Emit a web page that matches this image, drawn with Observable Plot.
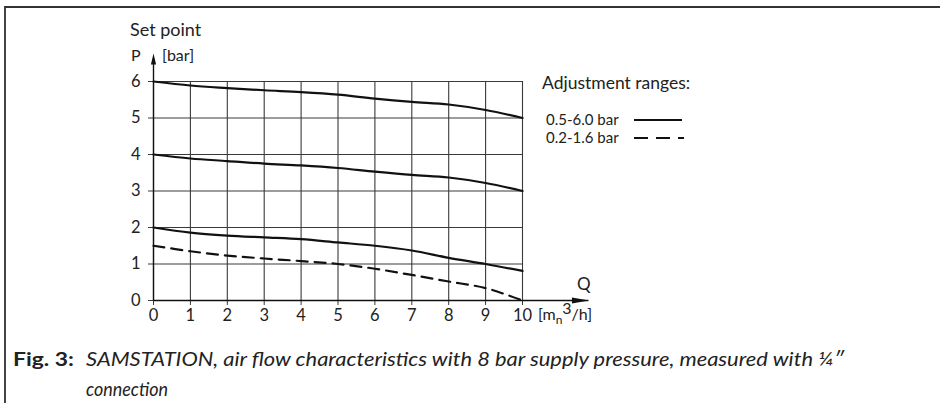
<!DOCTYPE html>
<html>
<head>
<meta charset="utf-8">
<script src="https://cdn.jsdelivr.net/npm/d3@7"></script>
<script src="https://cdn.jsdelivr.net/npm/@observablehq/plot@0.6"></script>
<style>
  html, body { margin: 0; padding: 0; background: #fff; }
  #wrap { position: relative; width: 940px; height: 403px; overflow: hidden; background: #fff; }
  #frame { position: absolute; left: 4px; top: 6px; width: 940px; height: 400px;
           border-top: 2px solid #333; border-left: 2px solid #444; box-sizing: border-box; }
  #chart { position: absolute; left: 0; top: 0; }
</style>
</head>
<body>
<div id="wrap"><div id="frame"></div><div id="chart"></div></div>
<script>
// ---- data ----
const flow = [0, 1, 2, 3, 4, 5, 6, 7, 8, 9, 10];               // Q [m_n^3/h]
const range60 = [6.0, 5.89, 5.82, 5.76, 5.71, 5.64, 5.53, 5.44, 5.37, 5.22, 5.0];  // 0.5-6.0 bar, set point 6
const range40 = [4.0, 3.89, 3.82, 3.75, 3.70, 3.63, 3.53, 3.44, 3.37, 3.22, 3.0];  // 0.5-6.0 bar, set point 4
const range20 = [2.0, 1.86, 1.78, 1.73, 1.68, 1.59, 1.50, 1.37, 1.17, 1.00, 0.81]; // 0.5-6.0 bar, set point 2
const range15 = [1.5, 1.35, 1.23, 1.15, 1.08, 1.00, 0.87, 0.70, 0.52, 0.34, 0.0];  // 0.2-1.6 bar, set point 1.5
const xTicks = [0, 1, 2, 3, 4, 5, 6, 7, 8, 9, 10];
const yTicks = [0, 1, 2, 3, 4, 5, 6];
const legendLabels = ["0.5-6.0 bar", "0.2-1.6 bar"];

const series = [
  {name: "s60", vals: range60, dashed: false},
  {name: "s40", vals: range40, dashed: false},
  {name: "s20", vals: range20, dashed: false},
  {name: "s15", vals: range15, dashed: true}
];
const rows = s => flow.map((x, i) => ({x, y: s.vals[i]}));

const arrowRight = {draw(ctx) { ctx.moveTo(0, 0); ctx.lineTo(-17, -3); ctx.lineTo(-17, 3); ctx.closePath(); }};
const arrowUp = {draw(ctx) { ctx.moveTo(0, 0); ctx.lineTo(-2.6, 11); ctx.lineTo(2.6, 11); ctx.closePath(); }};

const FONT = "Lato, 'Noto Sans', sans-serif";

const chart = Plot.plot({
  width: 940, height: 403,
  marginLeft: 153, marginRight: 418, marginTop: 81, marginBottom: 103,
  x: {domain: [0, 10]},
  y: {domain: [0, 6]},
  style: {fontFamily: FONT, fontSize: "16px", color: "#222", background: "transparent", overflow: "visible"},
  marks: [
    Plot.gridX(xTicks, {stroke: "#3a3a3a", strokeOpacity: 1, strokeWidth: 1.1}),
    Plot.gridY(yTicks, {stroke: "#3a3a3a", strokeOpacity: 1, strokeWidth: 1.1}),
    Plot.axisX(xTicks, {tickSize: 5, tickPadding: 4, stroke: "#3a3a3a", strokeOpacity: 1, fontSize: 16.5, tickFormat: d => String(d), label: null}),
    Plot.axisY(yTicks, {tickSize: 5, tickPadding: 8, stroke: "#3a3a3a", strokeOpacity: 1, fontSize: 16.5, tickFormat: d => String(d), label: null}),
    Plot.ruleY([0], {x1: 0, x2: 11.8, stroke: "#111", strokeWidth: 1.4}),
    Plot.ruleX([0], {y1: 0, y2: 6.6, stroke: "#111", strokeWidth: 1.4}),
    Plot.dot([{x: 11.8, y: 0}], {x: "x", y: "y", symbol: arrowRight, fill: "#111", r: 5}),
    Plot.dot([{x: 0, y: 6.77}], {x: "x", y: "y", symbol: arrowUp, fill: "#111", r: 5}),
    ...series.map(s => Plot.line(rows(s), {
      x: "x", y: "y", curve: "catmull-rom", stroke: "#111", strokeWidth: 2.2,
      strokeDasharray: s.dashed ? "11,7" : null
    }))
  ]
});
document.getElementById("chart").appendChild(chart);

// ---- annotations ----
const svg = d3.select(chart);
const ann = svg.append("g").attr("font-family", FONT).attr("fill", "#222").attr("text-anchor", "start");
function txt(x, y, s, size, extra) {
  const t = ann.append("text").attr("x", x).attr("y", y).attr("font-size", size).text(s);
  if (extra) extra(t);
  return t;
}
txt(130, 36, "Set point", 18);
txt(131, 61, "P", 16);
txt(162, 61, "[bar]", 16);
txt(577, 290, "Q", 17);
const unit = ann.append("text").attr("x", 538).attr("y", 320).attr("font-size", 16);
unit.append("tspan").text("[m");
unit.append("tspan").attr("dy", 4).attr("font-size", 12).text("n");
unit.append("tspan").attr("dy", -10).text("3");
unit.append("tspan").attr("dy", 6).text("/h]");

// legend
txt(542, 89, "Adjustment ranges:", 17.5);
txt(546, 125, legendLabels[0], 15);
txt(546, 143, legendLabels[1], 15);
const lg = svg.append("g").attr("stroke", "#111").attr("stroke-width", 2);
lg.append("line").attr("x1", 634).attr("x2", 682).attr("y1", 120).attr("y2", 120);
lg.append("line").attr("x1", 634).attr("x2", 684).attr("y1", 138).attr("y2", 138).attr("stroke-dasharray", "14,8");

// caption
txt(13, 366, "Fig. 3:", 19, t => t.attr("font-weight", "bold").attr("textLength", 61).attr("lengthAdjust", "spacingAndGlyphs"));
txt(86, 366, "SAMSTATION, air flow characteristics with 8 bar supply pressure, measured with \u00BC\u2033", 19,
    t => t.attr("font-style", "italic").attr("textLength", 758).attr("lengthAdjust", "spacingAndGlyphs"));
txt(86, 396, "connection", 19, t => t.attr("font-style", "italic").attr("textLength", 82).attr("lengthAdjust", "spacingAndGlyphs"));
</script>
</body>
</html>
